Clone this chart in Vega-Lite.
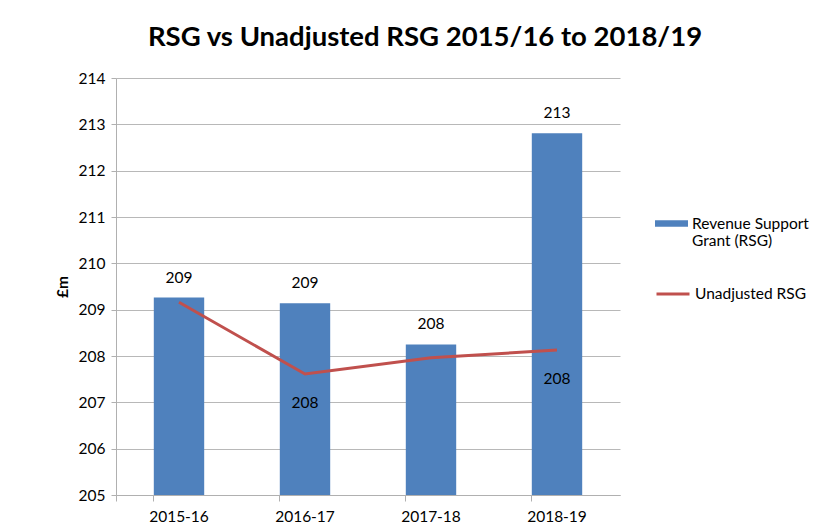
{
  "$schema": "https://vega.github.io/schema/vega-lite/v6.json",
  "autosize": {"type": "none"},
  "padding": {"left": 116, "top": 78, "right": 209, "bottom": 34},
  "width": 504,
  "height": 417,
  "background": "white",
  "title": {
    "text": "RSG vs Unadjusted RSG 2015/16 to 2018/19",
    "font": "Lato",
    "fontSize": 27.5,
    "fontWeight": "bold",
    "color": "#000000",
    "anchor": "middle",
    "dx": 57,
    "offset": 20
  },
  "datasets": {
    "main": [
      {"year": "2015-16", "rsg": 209.26, "unadjusted": 209.16},
      {"year": "2016-17", "rsg": 209.14, "unadjusted": 207.61},
      {"year": "2017-18", "rsg": 208.25, "unadjusted": 207.96},
      {"year": "2018-19", "rsg": 212.81, "unadjusted": 208.13}
    ],
    "lineLabels": [
      {"year": "2016-17", "unadjusted": 207.61},
      {"year": "2018-19", "unadjusted": 208.13}
    ]
  },
  "encoding": {
    "x": {
      "field": "year",
      "type": "nominal",
      "sort": null,
      "scale": {"paddingInner": 0.6, "paddingOuter": 0.3},
      "axis": {
        "title": null,
        "labelAngle": 0,
        "labelFont": "Lato",
        "labelFontSize": 15.5,
        "labelColor": "#000000",
        "labelPadding": 8,
        "tickSize": 6,
        "tickColor": "#b0b0b0",
        "domainColor": "#b0b0b0",
        "bandPosition": 0,
        "tickExtra": true,
        "grid": false
      }
    }
  },
  "layer": [
    {
      "data": {"name": "main"},
      "mark": {"type": "bar", "clip": true},
      "encoding": {
        "y": {
          "field": "rsg",
          "type": "quantitative",
          "scale": {"domain": [205, 214], "zero": false, "nice": false},
          "axis": {
            "title": "£m",
            "titleFont": "Lato",
            "titleFontSize": 15.5,
            "titleFontWeight": "bold",
            "titleColor": "#000000",
            "titlePadding": 8,
            "values": [205, 206, 207, 208, 209, 210, 211, 212, 213, 214],
            "labelFont": "Lato",
            "labelFontSize": 15.5,
            "labelColor": "#000000",
            "labelPadding": 6,
            "tickSize": 5,
            "tickColor": "#b0b0b0",
            "domainColor": "#b0b0b0",
            "gridColor": "#b8b8b8",
            "grid": true
          }
        },
        "fill": {
          "datum": "Revenue Support Grant (RSG)",
          "type": "nominal",
          "scale": {"range": ["#4f81bd"]},
          "legend": {
            "title": null,
            "orient": "none",
            "legendX": 539,
            "legendY": 129,
            "symbolType": "M-1,-0.2H1V0.2H-1Z",
            "symbolSize": 1089,
            "symbolStrokeWidth": 0,
            "labelFont": "Lato",
            "labelFontSize": 15.5,
            "labelColor": "#000000",
            "labelBaseline": "middle",
            "labelLimit": 200,
            "labelExpr": "datum.label == 'Revenue Support Grant (RSG)' ? ['Revenue Support', 'Grant (RSG)'] : datum.label"
          }
        }
      }
    },
    {
      "data": {"name": "main"},
      "mark": {"type": "line", "strokeWidth": 3},
      "encoding": {
        "y": {"field": "unadjusted", "type": "quantitative"},
        "stroke": {
          "datum": "Unadjusted RSG",
          "type": "nominal",
          "scale": {"range": ["#c0504d"]},
          "legend": {
            "title": null,
            "orient": "none",
            "legendX": 539,
            "legendY": 198,
            "symbolType": "stroke",
            "symbolSize": 1089,
            "symbolStrokeWidth": 3,
            "labelFont": "Lato",
            "labelFontSize": 15.5,
            "labelColor": "#000000",
            "labelLimit": 200
          }
        }
      }
    },
    {
      "data": {"name": "main"},
      "mark": {"type": "text", "font": "Lato", "fontSize": 15.5, "color": "#000000", "dy": -20, "baseline": "middle"},
      "encoding": {
        "y": {"field": "rsg", "type": "quantitative"},
        "text": {"field": "rsg", "type": "quantitative", "format": ".0f"}
      }
    },
    {
      "data": {"name": "lineLabels"},
      "mark": {"type": "text", "font": "Lato", "fontSize": 15.5, "color": "#000000", "dy": 29, "baseline": "middle"},
      "encoding": {
        "y": {"field": "unadjusted", "type": "quantitative"},
        "text": {"field": "unadjusted", "type": "quantitative", "format": ".0f"}
      }
    }
  ],
  "config": {
    "view": {"stroke": null}
  }
}
